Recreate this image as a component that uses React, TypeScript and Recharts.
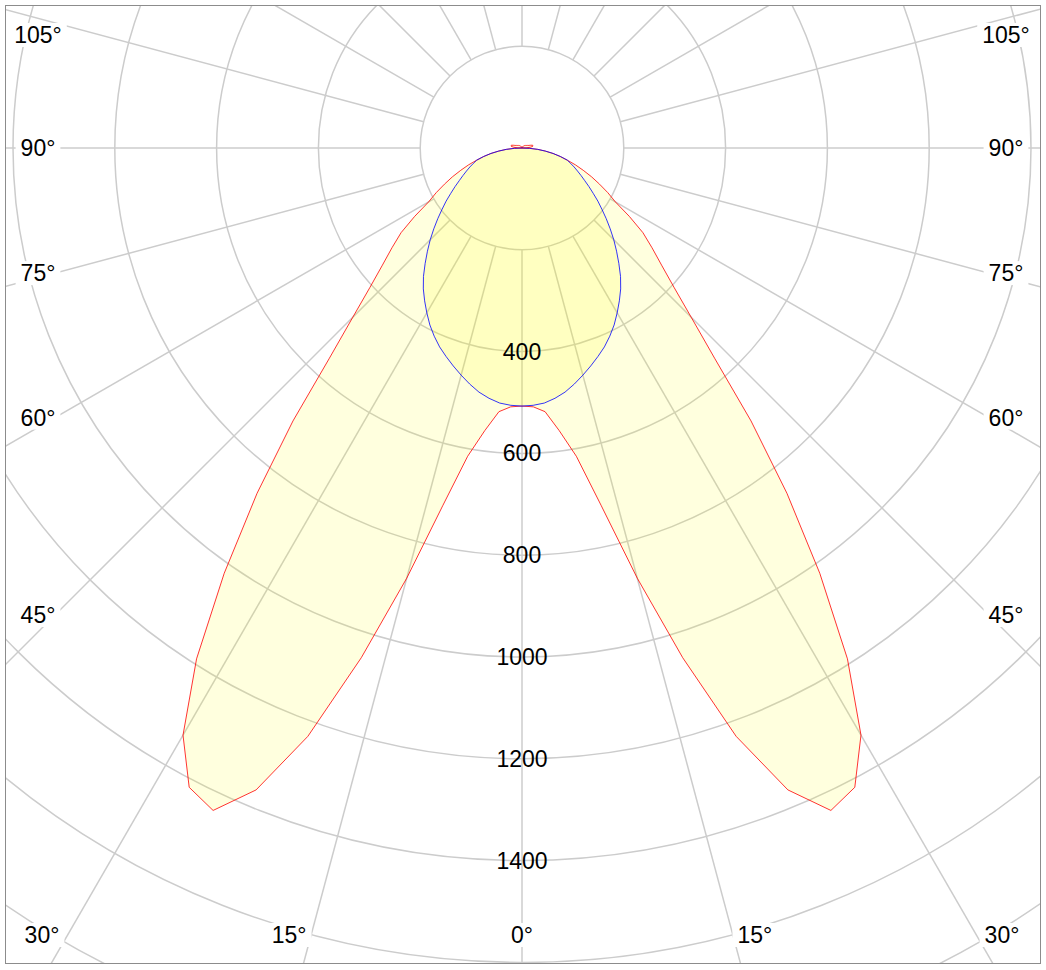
import React from 'react';
import { RadarChart, Radar, PolarGrid, PolarAngleAxis, PolarRadiusAxis } from 'recharts';

// gamma angles of one half plane (0 = straight down), step 2.5°
const GAMMA = [
  0, 2.5, 5, 7.5, 10, 12.5, 15, 17.5, 20, 22.5, 25, 27.5, 30, 32.5, 35, 37.5, 40, 42.5,
  45, 47.5, 50, 52.5, 55, 57.5, 60, 62.5, 65, 67.5, 70, 72.5, 75, 77.5, 80, 82.5, 85, 87.5,
  90, 92.5, 95, 97.5, 100, 102.5, 105, 107.5, 110, 112.5, 115, 117.5, 120, 122.5, 125, 127.5,
  130, 132.5, 135, 137.5, 140, 142.5, 145, 147.5, 150, 152.5, 155, 157.5, 160, 162.5, 165,
  167.5, 170, 172.5, 175, 177.5, 180,
];

// C0-C180 plane (red)
const C0_C180 = [
  507, 509, 520, 560, 615, 720, 875, 1050, 1230, 1365, 1436, 1416, 1332, 1190, 1020, 855, 700, 560,
  470, 405, 358, 322, 290, 250, 212, 190, 168, 148, 128, 110, 92, 77, 62, 46, 31, 15,
  0, 8, 16, 20, 22, 22, 21, 18, 15, 13, 12, 11, 10, 9, 9, 8,
  8, 7, 7, 6, 6, 5, 5, 4, 4, 3, 3, 2, 2, 1, 1,
  0, 0, 0, 0, 0, 0,
];

// C90-C270 plane (blue)
const C90_C270 = [
  507, 506, 503, 496, 487, 475, 462, 449, 436, 423, 408, 392, 374, 356, 338, 318, 296, 275,
  255, 235, 216, 198, 182, 166, 152, 139, 128, 118, 109, 100, 92, 77, 62, 46, 31, 15,
  0, 0, 0, 0, 0, 0, 0, 0, 0, 0, 0, 0, 0, 0, 0, 0,
  0, 0, 0, 0, 0, 0, 0, 0, 0, 0, 0, 0, 0, 0, 0,
  0, 0, 0, 0, 0, 0,
];

const ANGLE_TICKS = [0, 15, 30, 45, 60, 75, 90, 105, 120, 135, 150, 165, 180, 195, 210, 225, 240, 255, 270, 285, 300, 315, 330, 345];
const RADIUS_TICKS = [200, 400, 600, 800, 1000, 1200, 1400, 1600, 1800, 2000];

// full circle: right half 0..180, left half mirrored 182.5..357.5
const rows: { gamma: number; c0: number; c90: number }[] = [];
GAMMA.forEach((g, i) => rows.push({ gamma: g, c0: C0_C180[i], c90: C90_C270[i] }));
for (let i = GAMMA.length - 2; i >= 1; i--) {
  rows.push({ gamma: 360 - GAMMA[i], c0: C0_C180[i], c90: C90_C270[i] });
}

const W = 1034;
const H = 957;
const CX = 516;
const CY = 142;
const FS = 23;
const FONT = '"Liberation Sans", Arial, sans-serif';

const AngleTick = (props: any) => {
  const { payload } = props;
  const g = Number(payload.value);
  const shown = g <= 180 ? g : 360 - g;
  if (shown > 105) return null;
  const rad = (-payload.coordinate * Math.PI) / 180;
  const dx = Math.cos(rad);
  const dy = Math.sin(rad);
  let x: number;
  let y: number;
  if (dy > 0 && Math.abs(dx) / dy < Math.tan((37.5 * Math.PI) / 180)) {
    x = CX + Math.max(-480, Math.min(480, (869 * dx) / dy));
    y = CY + 787;
  } else {
    x = CX + Math.sign(dx) * 484;
    y = Math.max(CY - 113, CY + (467 * dy) / Math.abs(dx));
  }
  const label = `${shown}°`;
  const w = (String(shown).length * 0.556 + 0.4) * FS;
  return (
    <g>
      <rect x={x - w / 2 - 5} y={y - 12} width={w + 10} height={24} fill="#ffffff" />
      <text x={x} y={y} dy="0.35em" textAnchor="middle" fontSize={FS} fontFamily={FONT} fill="#000">
        {label}
      </text>
    </g>
  );
};

const RadiusTick = (props: any) => {
  const { x, y, payload } = props;
  const v = Number(payload.value);
  if (v < 400 || y > H - 60) return null;
  return (
    <text x={x} y={y} dy="0.35em" textAnchor="middle" fontSize={FS} fontFamily={FONT} fill="#000">
      {v}
    </text>
  );
};

export default function App() {
  return (
    <div
      style={{
        position: 'absolute',
        left: 5,
        top: 5,
        width: W,
        height: H,
        border: '1px solid #8c8c8c',
        overflow: 'hidden',
        background: '#fff',
        fontFamily: FONT,
      }}
    >
      <RadarChart
        width={W}
        height={H}
        data={rows}
        cx={CX}
        cy={CY}
        innerRadius={101.8}
        outerRadius={1018}
        startAngle={-90}
        endAngle={270}
        margin={{ top: 0, right: 0, bottom: 0, left: 0 }}
      >
        <PolarGrid gridType="circle" stroke="#cccccc" strokeWidth={1.5} />
        <Radar
          dataKey="c0"
          stroke="#ff0000"
          strokeWidth={0.8}
          fill="#ffff00"
          fillOpacity={0.13}
          dot={false}
          isAnimationActive={false}
        />
        <Radar
          dataKey="c90"
          stroke="#0000ff"
          strokeWidth={0.8}
          fill="#ffff00"
          fillOpacity={0.13}
          dot={false}
          isAnimationActive={false}
        />
        <PolarAngleAxis
          dataKey="gamma"
          type="number"
          domain={[0, 360]}
          ticks={ANGLE_TICKS}
          axisLine={false}
          tickLine={false}
          tick={<AngleTick />}
        />
        <PolarRadiusAxis
          angle={-90}
          type="number"
          domain={[200, 2000]}
          ticks={RADIUS_TICKS}
          allowDataOverflow
          axisLine={false}
          tick={<RadiusTick />}
        />
      </RadarChart>
    </div>
  );
}
